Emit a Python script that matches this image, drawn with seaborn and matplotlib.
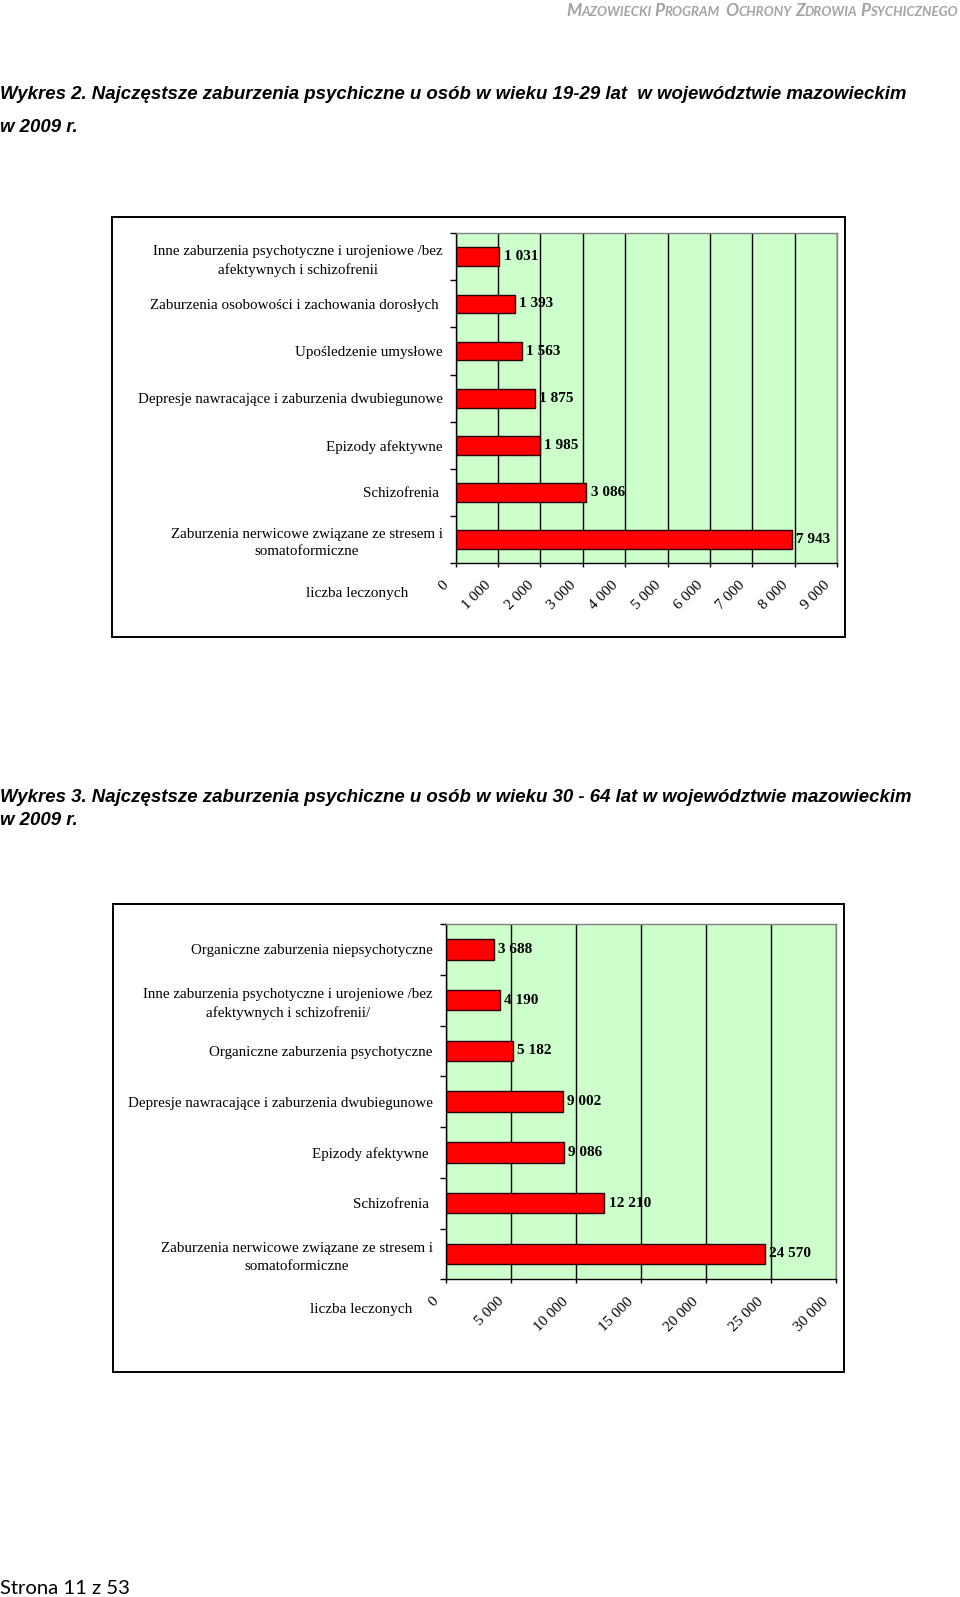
import numpy as np
import pandas as pd
import matplotlib
matplotlib.use("Agg")
import matplotlib.pyplot as plt
import seaborn as sns
from matplotlib.patches import Rectangle
from matplotlib.transforms import ScaledTranslation
from matplotlib.ticker import FuncFormatter, FixedLocator

# ---------------- data ----------------
cats1 = [
    "Inne zaburzenia psychotyczne i urojeniowe /bez\nafektywnych i schizofrenii",
    "Zaburzenia osobowości i zachowania dorosłych ",
    "Upośledzenie umysłowe",
    "Depresje nawracające i zaburzenia dwubiegunowe",
    "Epizody afektywne",
    "Schizofrenia ",
    "Zaburzenia nerwicowe związane ze stresem i\nsomatoformiczne",
]
vals1 = [1031, 1393, 1563, 1875, 1985, 3086, 7943]
ticks1 = [0, 1000, 2000, 3000, 4000, 5000, 6000, 7000, 8000, 9000]

cats2 = [
    "Organiczne zaburzenia niepsychotyczne",
    "Inne zaburzenia psychotyczne i urojeniowe /bez\nafektywnych i schizofrenii/",
    "Organiczne zaburzenia psychotyczne",
    "Depresje nawracające i zaburzenia dwubiegunowe",
    "Epizody afektywne ",
    "Schizofrenia ",
    "Zaburzenia nerwicowe związane ze stresem i\nsomatoformiczne",
]
vals2 = [3688, 4190, 5182, 9002, 9086, 12210, 24570]
ticks2 = [0, 5000, 10000, 15000, 20000, 25000, 30000]

title2 = ["Wykres 2. Najczęstsze zaburzenia psychiczne u osób w wieku 19-29 lat  w województwie mazowieckim",
          "w 2009 r."]
title3 = ["Wykres 3. Najczęstsze zaburzenia psychiczne u osób w wieku 30 - 64 lat w województwie mazowieckim",
          "w 2009 r."]
axis_label = "liczba leczonych"
header_words = ["MAZOWIECKI", "PROGRAM", " OCHRONY", "ZDROWIA", "PSYCHICZNEGO"]
footer = "Strona 11 z 53"

# ---------------- layout ----------------
W, H = 960, 1597
fig = plt.figure(figsize=(W / 100, H / 100), dpi=100)
fig.patch.set_facecolor("white")

SERIF = ["Liberation Serif", "DejaVu Serif"]


def rect_px(l, t, r, b):
    return [l / W, 1 - b / H, (r - l) / W, (b - t) / H]


def fmt(v, pos=None):
    return f"{int(round(v)):,}".replace(",", " ")


def draw_chart(box, axrect, cats, vals, ticks, xmax, lab_xy):
    # outer frame
    l, t, r, b = box
    fig.patches.append(Rectangle((l / W, 1 - b / H), (r - l) / W, (b - t) / H,
                                 transform=fig.transFigure, fill=False,
                                 edgecolor="black", linewidth=1.4, zorder=0))
    ax = fig.add_axes(rect_px(*axrect))
    df = pd.DataFrame({"kategoria": cats, "liczba": vals})
    sns.barplot(data=df, x="liczba", y="kategoria", orient="h", color="#FF0000",
                saturation=1, edgecolor="#2a0000", linewidth=1.0, width=0.4, ax=ax)
    ax.set_facecolor("#CCFFCC")
    n = len(cats)
    ax.set_xlim(0, xmax)
    ax.set_ylim(n - 0.5, -0.5)
    ax.set_xlabel("")
    ax.set_ylabel("")
    ax.xaxis.set_major_locator(FixedLocator(ticks))
    ax.xaxis.set_major_formatter(FuncFormatter(fmt))
    ax.grid(axis="x", color="black", linewidth=1.0)
    ax.grid(axis="y", visible=False)
    ax.set_axisbelow(True)

    for s in ["top", "right"]:
        ax.spines[s].set_color("#808080")
        ax.spines[s].set_linewidth(1.0)
    for s in ["left", "bottom"]:
        ax.spines[s].set_color("black")
        ax.spines[s].set_linewidth(1.0)

    ax.set_yticks(range(n))
    ax.set_yticklabels(cats)
    ax.set_yticks(np.arange(-0.5, n, 1.0), minor=True)
    ax.tick_params(axis="y", which="major", length=0, pad=9.5, labelsize=10.8)
    ax.tick_params(axis="y", which="minor", length=4, width=1, color="black", direction="out")
    for lab in ax.get_yticklabels():
        lab.set_family(SERIF)
        lab.set_multialignment("center")
        lab.set_linespacing(1.45)

    ax.tick_params(axis="x", which="major", length=3, width=1, color="black",
                   direction="out", pad=11.5, labelsize=11)
    off = ScaledTranslation(-9 / 100, 0, fig.dpi_scale_trans)
    for lab in ax.get_xticklabels():
        lab.set_family(SERIF)
        lab.set_rotation(45)
        lab.set_ha("right")
        lab.set_va("center")
        lab.set_rotation_mode("anchor")
        lab.set_transform(lab.get_transform() + off)

    for i, v in enumerate(vals):
        ax.annotate(fmt(v), xy=(v, i), xytext=(3, 0), textcoords="offset points",
                    va="center", ha="left", fontsize=11, fontweight="bold",
                    family=SERIF, color="black", annotation_clip=False)

    fig.text(lab_xy[0] / W, 1 - lab_xy[1] / H, axis_label, ha="center", va="center",
             fontsize=11, family=SERIF)
    return ax


draw_chart((112, 216.7, 845, 636.7), (455.7, 233.3, 837, 563), cats1, vals1, ticks1, 9000, (357, 593.5))
draw_chart((112.7, 904, 844, 1371.7), (445.7, 924, 835.7, 1279.3), cats2, vals2, ticks2, 30000, (361.5, 1310))

# ---------------- titles ----------------
TFONT = dict(family=["Liberation Sans"], style="italic",
             weight="bold", fontsize=13.4, ha="left", va="center", color="black")
fig.text(0.5 / W, 1 - 94.5 / H, title2[0], **TFONT)
fig.text(0.5 / W, 1 - 127 / H, title2[1], **TFONT)
fig.text(0.5 / W, 1 - 797 / H, title3[0], **TFONT)
fig.text(0.5 / W, 1 - 820.5 / H, title3[1], **TFONT)

fig.text(0.5 / W, 1 - 1589 / H, footer, family=["Lato", "DejaVu Sans"], fontsize=14.6,
         ha="left", va="center", color="black")

# ---------------- header (small caps) ----------------
renderer = fig.canvas.get_renderer()
HDR = dict(family=["Lato", "DejaVu Sans"], style="italic", weight="bold", color="#A3A3A3",
           ha="left", va="baseline")
pieces = []
for k, w in enumerate(header_words):
    lead_space = w.startswith(" ")
    w = w.strip()
    if k > 0:
        pieces.append(("  " if lead_space else " ", 9.5))
    pieces.append((w[0], 12.5))
    pieces.append((w[1:], 9.5))

widths = []
for txt, sz in pieces:
    tt = fig.text(0, 0, txt.replace(" ", "\u00a0") if txt.strip() == "" else txt, fontsize=sz, **HDR)
    widths.append(tt.get_window_extent(renderer).width)
    tt.remove()
total = sum(widths)
x = 958 - total
base_y = 1 - 16 / H
for (txt, sz), wd in zip(pieces, widths):
    if txt.strip():
        fig.text(x / W, base_y, txt, fontsize=sz, **HDR)
    x += wd

fig.savefig("out.png", dpi=100, facecolor="white")
